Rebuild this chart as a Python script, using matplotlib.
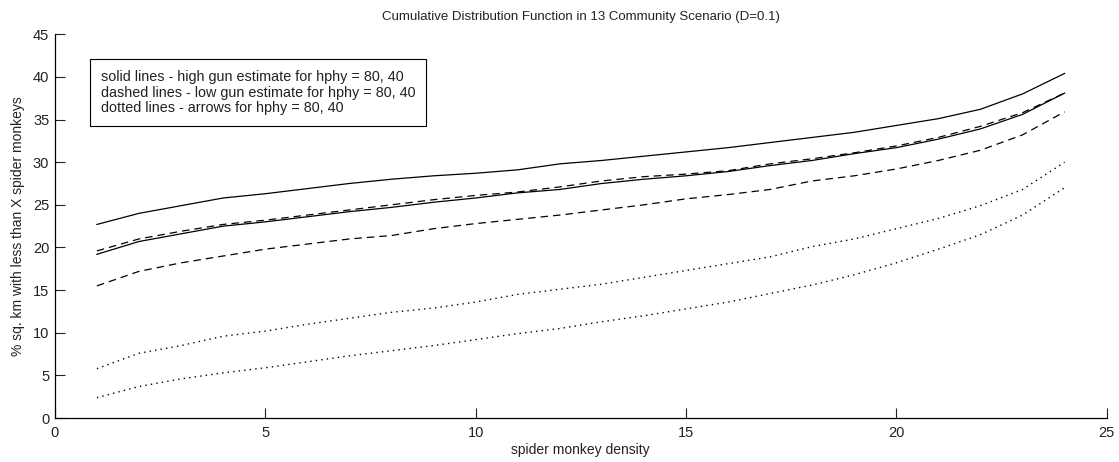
import numpy as np
import matplotlib
matplotlib.use("Agg")
import matplotlib.pyplot as plt

plt.rcParams['font.family'] = ['Liberation Sans', 'DejaVu Sans']

density = np.arange(1, 25)

# high gun estimate (hphy = 80, 40)
high_80 = [22.7, 24.0, 24.9, 25.8, 26.3, 26.9, 27.5, 28.0, 28.4, 28.7, 29.1, 29.8,
           30.2, 30.7, 31.2, 31.7, 32.3, 32.9, 33.5, 34.3, 35.1, 36.2, 38.0, 40.4]
high_40 = [19.2, 20.7, 21.6, 22.5, 23.0, 23.6, 24.2, 24.7, 25.3, 25.8, 26.4, 26.8,
           27.5, 28.0, 28.4, 28.9, 29.6, 30.2, 31.0, 31.7, 32.7, 33.9, 35.6, 38.1]
# low gun estimate
low_80 = [19.6, 21.0, 21.9, 22.7, 23.2, 23.8, 24.4, 25.0, 25.6, 26.1, 26.5, 27.1,
          27.8, 28.3, 28.6, 29.0, 29.8, 30.4, 31.1, 31.9, 32.9, 34.2, 35.8, 38.1]
low_40 = [15.5, 17.2, 18.2, 19.0, 19.8, 20.4, 21.0, 21.4, 22.2, 22.8, 23.3, 23.8,
          24.4, 25.0, 25.7, 26.2, 26.8, 27.8, 28.4, 29.2, 30.2, 31.4, 33.2, 35.9]
# arrows
arrow_80 = [5.8, 7.6, 8.5, 9.6, 10.2, 11.0, 11.7, 12.4, 12.9, 13.6, 14.5, 15.1,
            15.7, 16.5, 17.3, 18.1, 18.9, 20.1, 21.0, 22.2, 23.4, 24.9, 26.8, 30.0]
arrow_40 = [2.4, 3.7, 4.6, 5.3, 5.9, 6.6, 7.3, 7.9, 8.5, 9.2, 9.9, 10.5,
            11.3, 12.0, 12.8, 13.6, 14.6, 15.6, 16.8, 18.2, 19.8, 21.5, 23.8, 27.0]

fig = plt.figure(figsize=(11.19, 4.62), dpi=100)
ax = fig.add_axes([0.049, 0.095, 0.940, 0.831])

for y in (high_80, high_40):
    ax.plot(density, y, color='black', lw=0.9, ls='-')
for y in (low_80, low_40):
    ax.plot(density, y, color='black', lw=0.9, ls=(0, (6, 4)))
for y in (arrow_80, arrow_40):
    ax.plot(density, y, color='black', lw=1.0, ls=(0, (1, 3)))

ax.set_xlim(0, 25)
ax.set_ylim(0, 45)
ax.set_xticks(np.arange(0, 26, 5))
ax.set_yticks(np.arange(0, 46, 5))
ax.tick_params(direction='in', length=7, width=0.8, labelsize=10.5, colors='#222222')
ax.tick_params(axis='x', pad=6)
ax.tick_params(axis='y', pad=4)
for side in ('top', 'right'):
    ax.spines[side].set_visible(False)
for side in ('left', 'bottom'):
    ax.spines[side].set_linewidth(0.9)

ax.set_title('Cumulative Distribution Function in 13 Community Scenario (D=0.1)',
             fontsize=9.5, color='#222222', pad=10)
ax.set_xlabel('spider monkey density', fontsize=10, color='#222222', labelpad=2)
ax.set_ylabel('% sq. km with less than X spider monkeys', fontsize=10,
              color='#222222', labelpad=6)

ax.text(0.044, 0.907,
        'solid lines - high gun estimate for hphy = 80, 40\n'
        'dashed lines - low gun estimate for hphy = 80, 40\n'
        'dotted lines - arrows for hphy = 80, 40',
        transform=ax.transAxes, fontsize=10.4, color='#222222', va='top', ha='left',
        linespacing=1.15,
        bbox=dict(boxstyle='square,pad=0.75', fc='white', ec='black', lw=0.8))

fig.savefig('out.png', dpi=100)
